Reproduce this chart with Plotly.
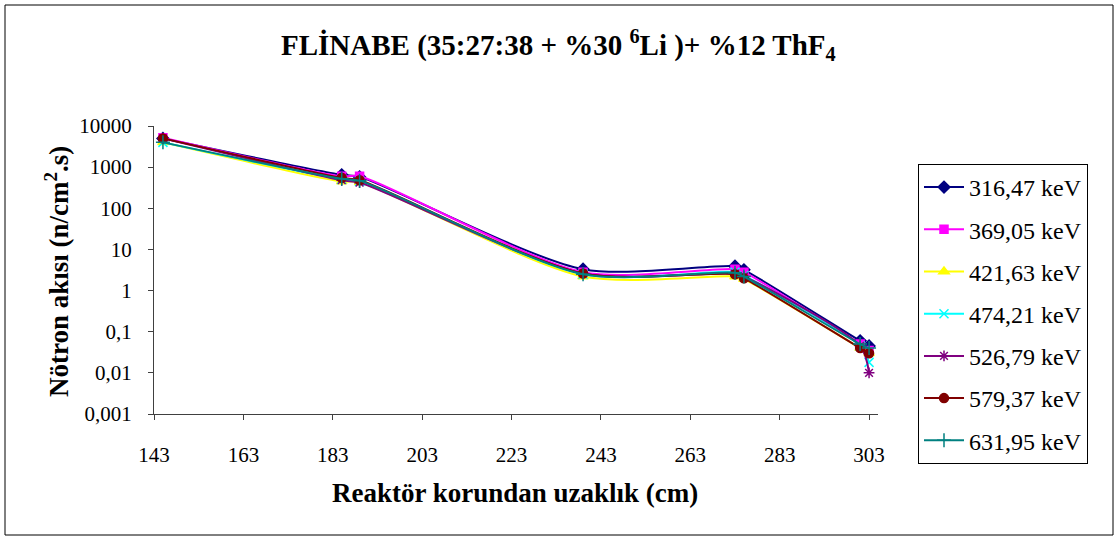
import plotly.graph_objects as go

# Distance from the reactor core (cm)
distance_cm = [145, 185, 189, 239, 273, 275, 301, 303]

# Neutron flux per energy group (n/cm^2.s)
flux_316_47 = [5000, 650, 580, 3.3, 3.9, 3.2, 0.060, 0.045]
flux_369_05 = [5200, 600, 600, 2.8, 3.3, 2.8, 0.050, 0.035]
flux_421_63 = [4000, 450, 430, 2.2, 2.2, 1.9, 0.040, 0.030]
flux_474_21 = [4000, 500, 450, 2.5, 2.8, 2.3, 0.045, 0.018]
flux_526_79 = [5000, 480, 420, 2.6, 2.6, 2.2, 0.045, 0.010]
flux_579_37 = [5000, 550, 480, 2.6, 2.5, 2.0, 0.040, 0.030]
flux_631_95 = [4000, 520, 470, 2.5, 2.7, 2.2, 0.050, 0.040]

series_names = ["316,47 keV", "369,05 keV", "421,63 keV", "474,21 keV",
                "526,79 keV", "579,37 keV", "631,95 keV"]
series_values = [flux_316_47, flux_369_05, flux_421_63, flux_474_21,
                 flux_526_79, flux_579_37, flux_631_95]

x_tick_vals = [143, 163, 183, 203, 223, 243, 263, 283, 303]
y_tick_vals = [0.001, 0.01, 0.1, 1, 10, 100, 1000, 10000]
y_tick_text = ["0,001", "0,01", "0,1", "1", "10", "100", "1000", "10000"]

colors = ["#000080", "#FF00FF", "#FFFF00", "#00FFFF", "#800080", "#800000", "#008080"]
symbols = ["diamond", "square", "triangle-up", "x-thin-open", "asterisk-open",
           "circle", "cross-thin-open"]
sizes = [9, 8, 9, 9, 9, 9, 10]

SERIF = "Liberation Serif, Times New Roman, serif"

fig = go.Figure()
for name, vals, c, s, sz in zip(series_names, series_values, colors, symbols, sizes):
    fig.add_trace(go.Scatter(
        x=distance_cm, y=vals, name=name, mode="lines+markers",
        line=dict(color=c, width=2, shape="spline", smoothing=0.8),
        marker=dict(symbol=s, size=sz, color=c, line=dict(color=c, width=1.5)),
        legendgroup=name,
    ))

fig.update_layout(
    width=1120, height=538,
    margin=dict(l=154, r=242, t=126, b=124),
    paper_bgcolor="white", plot_bgcolor="white",
    font=dict(family=SERIF, size=21, color="black"),
    showlegend=True,
    legend=dict(
        x=(918 - 154) / 724, y=(414 - 164) / 288, xanchor="left", yanchor="top",
        bordercolor="black", borderwidth=1, maxheight=420,
        font=dict(family=SERIF, size=24, color="black"),
        tracegroupgap=8, itemwidth=40,
    ),
    xaxis=dict(
        range=[143, 305], tickvals=x_tick_vals, ticktext=[str(v) for v in x_tick_vals],
        showgrid=False, zeroline=False, showline=True, linecolor="#404040", linewidth=1,
        ticks="outside", ticklen=5, tickcolor="#404040",
        tickfont=dict(family=SERIF, size=21), ticklabelstandoff=17,
    ),
    yaxis=dict(
        type="log", range=[-3, 4], tickvals=y_tick_vals, ticktext=y_tick_text,
        showgrid=False, zeroline=False, showline=True, linecolor="#404040", linewidth=1,
        ticks="outside", ticklen=5, tickcolor="#404040",
        tickfont=dict(family=SERIF, size=21), ticklabelstandoff=12,
    ),
    annotations=[
        dict(text="<b>FLİNABE (35:27:38 + %30 <sup>6</sup>Li )+ %12 ThF<sub>4</sub></b>",
             xref="paper", yref="paper", x=(558 - 154) / 724, y=(414 - 45) / 288,
             xanchor="center", yanchor="middle", showarrow=False,
             font=dict(family=SERIF, size=29, color="black")),
        dict(text="<b>Reaktör korundan uzaklık (cm)</b>",
             xref="paper", yref="paper", x=(515 - 154) / 724, y=(414 - 493) / 288,
             xanchor="center", yanchor="middle", showarrow=False,
             font=dict(family=SERIF, size=27, color="black")),
        dict(text="<b>Nötron akısı (n/cm<sup>2</sup>.s)</b>",
             xref="paper", yref="paper", x=(57 - 154) / 724, y=(414 - 272) / 288,
             xanchor="center", yanchor="middle", showarrow=False, textangle=-90,
             font=dict(family=SERIF, size=27, color="black")),
    ],
    shapes=[
        dict(type="rect", xref="paper", yref="paper",
             x0=(5 - 154) / 724, x1=(1113 - 154) / 724,
             y0=(414 - 535) / 288, y1=(414 - 5) / 288,
             line=dict(color="black", width=1), fillcolor="rgba(0,0,0,0)", layer="below"),
    ],
)

fig.write_html("out.html")
